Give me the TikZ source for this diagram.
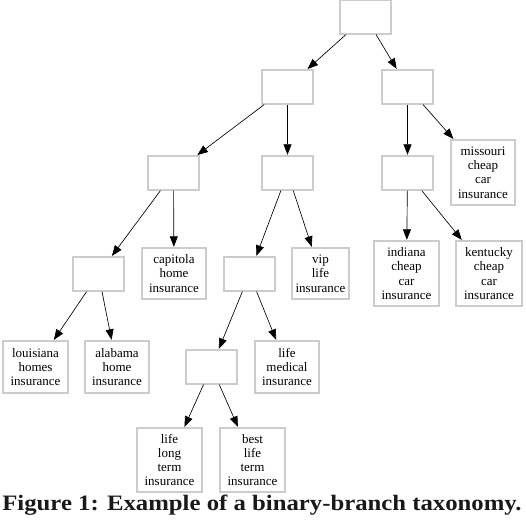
\documentclass[tikz,border=0pt]{standalone}
\usepackage{graphicx}
\usepackage{fontspec}
\setmainfont{Liberation Serif}
\usetikzlibrary{arrows.meta}
\tikzset{
  box/.style={draw=black!20, line width=1.2pt, fill=white, inner sep=0pt,
    align=center, minimum width=51pt, minimum height=34pt,
    font=\fontsize{13}{14.3}\selectfont},
  edge/.style={draw=black, line width=0.65pt, -{Triangle[length=10.5pt,width=8pt]}, shorten >=0.6pt}
}
\begin{document}
\begin{tikzpicture}[x=1pt,y=-1pt]
\useasboundingbox (0,0) rectangle (526,520);
\node[box] (root) at (365.5,17) {};
\node[box] (l1a) at (287.5,87) {};
\node[box] (l1b) at (407.5,87) {};
\node[box] (l2a) at (173.5,173) {};
\node[box] (l2b) at (287.5,173) {};
\node[box] (l2c) at (407.5,173) {};
\node[box, minimum width=64pt, minimum height=65pt] (missouri) at (483,172.5) {missouri\\cheap\\car\\insurance};
\node[box, minimum width=65pt, minimum height=65pt] (indiana) at (406.5,273.5) {indiana\\cheap\\car\\insurance};
\node[box, minimum width=66pt, minimum height=65pt] (kentucky) at (489,273.5) {kentucky\\cheap\\car\\insurance};
\node[box] (l3a) at (98.5,274) {};
\node[box, minimum width=64pt, minimum height=51pt] (capitola) at (174,273.5) {capitola\\home\\insurance};
\node[box] (l3b) at (249.5,274) {};
\node[box, minimum width=57pt, minimum height=51pt] (vip) at (320.5,273.5) {vip\\life\\insurance};
\node[box, minimum width=65pt, minimum height=52pt] (louisiana) at (35.5,367) {louisiana\\homes\\insurance};
\node[box, minimum width=64pt, minimum height=52pt] (alabama) at (117,367) {alabama\\home\\insurance};
\node[box] (l4) at (211.5,367) {};
\node[box, minimum width=64pt, minimum height=52pt] (lifemed) at (287,367) {life\\medical\\insurance};
\node[box, minimum width=65pt, minimum height=64pt] (lifelong) at (169.5,460) {life\\long\\term\\insurance};
\node[box, minimum width=65pt, minimum height=64pt] (best) at (252.5,460) {best\\life\\term\\insurance};
\draw[edge] (root) -- (l1a);
\draw[edge] (root) -- (l1b);
\draw[edge] (l1a) -- (l2a);
\draw[edge] (l1a) -- (l2b);
\draw[edge] (l1b) -- (l2c);
\draw[edge] (l1b) -- (missouri);
\draw[edge] (l2c) -- (indiana);
\draw[edge] (l2c) -- (kentucky);
\draw[edge] (l2a) -- (l3a);
\draw[edge] (l2a) -- (capitola);
\draw[edge] (l2b) -- (l3b);
\draw[edge] (l2b) -- (vip);
\draw[edge] (l3a) -- (louisiana);
\draw[edge] (l3a) -- (alabama);
\draw[edge] (l3b) -- (l4);
\draw[edge] (l3b) -- (lifemed);
\draw[edge] (l4) -- (lifelong);
\draw[edge] (l4) -- (best);
\node[anchor=base, inner sep=0pt, font=\bfseries\fontsize{22}{24}\selectfont, text=black!90] (caption) at (262,510) {\scalebox{1.125}[1]{Figure 1: Example of a binary-branch taxonomy.}};
\end{tikzpicture}
\end{document}
